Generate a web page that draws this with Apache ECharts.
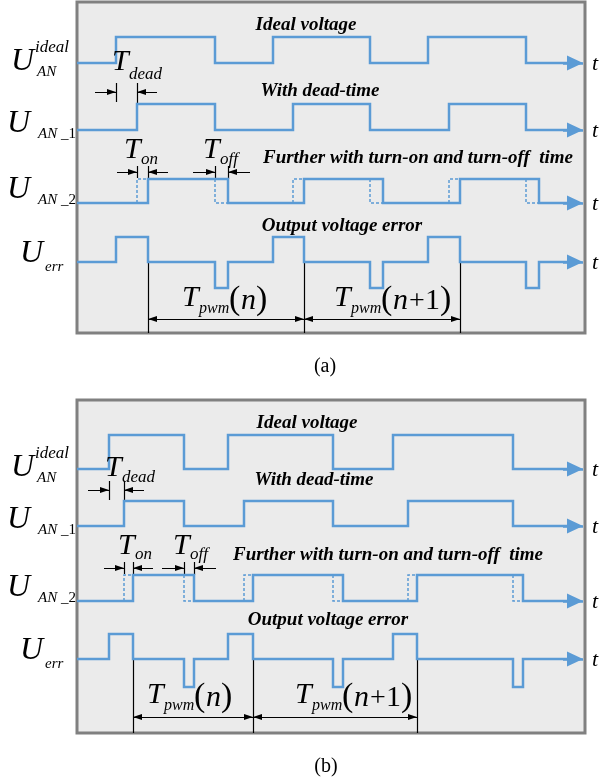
<!DOCTYPE html>
<html><head><meta charset="utf-8">
<script src="https://cdn.jsdelivr.net/npm/echarts/dist/echarts.min.js"></script>
<style>html,body{margin:0;padding:0;background:#fff}#c{width:601px;height:784px}</style>
</head><body><div id="c"></div>
<script>
// ---- Data: switching-edge instants (time units, 0 = left edge of the plot) ----
// Panel (a)
const idealEdgesA  = [39, 138, 196, 293, 351, 449];
const deadEdgesA   = [60, 138, 216, 293, 372, 449];
const actualEdgesA = [71, 151, 227, 306, 383, 462];
// Panel (b)
const idealEdgesB  = [32, 107, 151, 256, 316, 436];
const deadEdgesB   = [47, 107, 167, 256, 331, 436];
const actualEdgesB = [56, 117, 176, 266, 340, 446];
const tMax = 508;          // time span of the axis
const tArrow = 506;        // arrow tip (end of time axis)

const traceTitles = ['Ideal voltage', 'With dead-time', 'Further with turn-on and turn-off  time', 'Output voltage error'];
const captions = ['(a)', '(b)'];

// ---- Layout (pixels / axis units) ----
const BLUE = '#5b9bd5';
const FF = "'Liberation Serif', 'Times New Roman', serif";
const panels = [
  { top: 2, height: 331, ideal: idealEdgesA, dead: deadEdgesA, actual: actualEdgesA,
    rows: { ideal: [35, 61], dead: [102, 128], actual: [177, 201], err: [235, 260, 286] },
    deadArrowY: 90, onArrowY: 170, pwmArrowY: 317 },
  { top: 400, height: 333, ideal: idealEdgesB, dead: deadEdgesB, actual: actualEdgesB,
    rows: { ideal: [35, 69], dead: [101, 126], actual: [175, 201], err: [234, 259, 287] },
    deadArrowY: 90, onArrowY: 168, pwmArrowY: 317 }
];

// arrow symbol: tip located at the line end point
const ARROW = 'path://M5,0 L5,0.01 M5,10 L10,20 L0,20 Z';
const SMALL = [6, 18], BIG = [15, 32];

function levelAt(edges, t) { let n = 0; edges.forEach(e => { if (e <= t) n++; }); return n % 2; }
function stepPoints(edges, hi, lo, tStop) {
  const yOf = l => l ? hi : lo;
  const pts = [[0, lo]];
  let lvl = 0;
  edges.forEach(e => { pts.push([e, yOf(lvl)]); lvl = 1 - lvl; pts.push([e, yOf(lvl)]); });
  pts.push([tStop, yOf(lvl)]);
  return { pts, last: yOf(lvl) };
}
function errPoints(ideal, actual, r, tStop) {
  const yOf = l => l > 0 ? r[0] : (l < 0 ? r[2] : r[1]);
  const ev = ideal.concat(actual).sort((a, b) => a - b);
  const pts = [[0, r[1]]];
  let prev = 0;
  ev.forEach(e => {
    const cur = levelAt(ideal, e) - levelAt(actual, e);
    pts.push([e, yOf(prev)]); pts.push([e, yOf(cur)]); prev = cur;
  });
  pts.push([tStop, yOf(prev)]);
  return { pts, last: yOf(prev) };
}

const grids = [], xAxes = [], yAxes = [], series = [];
panels.forEach((p, i) => {
  grids.push({ left: 77, top: p.top, width: tMax, height: p.height, show: true,
    backgroundColor: '#ebebeb', borderColor: '#808080', borderWidth: 3 });
  xAxes.push({ gridIndex: i, type: 'value', min: 0, max: tMax, show: false });
  yAxes.push({ gridIndex: i, type: 'value', min: 0, max: p.height, inverse: true, show: false });
  const ax = { xAxisIndex: i, yAxisIndex: i, animation: false, silent: true };
  const stop = tArrow - 8;
  const tr = [
    stepPoints(p.ideal, p.rows.ideal[0], p.rows.ideal[1], stop),
    stepPoints(p.dead, p.rows.dead[0], p.rows.dead[1], stop),
    stepPoints(p.actual, p.rows.actual[0], p.rows.actual[1], stop),
    errPoints(p.ideal, p.actual, p.rows.err, stop)
  ];
  tr.forEach(t => series.push(Object.assign({ type: 'line', data: t.pts, symbol: 'none',
    lineStyle: { color: BLUE, width: 2.5, join: 'miter' } }, ax)));
  // blue arrowheads
  series.push(Object.assign({ type: 'lines', coordinateSystem: 'cartesian2d',
    symbol: ['none', ARROW], symbolSize: [BIG, BIG],
    lineStyle: { color: BLUE, width: 2.5, opacity: 1 },
    data: tr.map(t => ({ coords: [[tArrow - 20, t.last], [tArrow, t.last]] })) }, ax));
  // dashed ideal transitions (shifted by dead time) on the turn-on/off trace
  const a = p.rows.actual;
  series.push(Object.assign({ type: 'lines', coordinateSystem: 'cartesian2d', polyline: true,
    lineStyle: { color: BLUE, width: 1.5, type: [3, 2], opacity: 1 },
    data: p.dead.map((d, k) => {
      const from = k % 2 === 0 ? a[1] : a[0], to = k % 2 === 0 ? a[0] : a[1];
      return { coords: [[d, from], [d, to], [p.actual[k], to]] };
    }) }, ax));
  // black plain lines: dimension ticks and period boundaries
  const yD = p.deadArrowY, yO = p.onArrowY;
  const plain = [
    [[p.ideal[0], yD - 9], [p.ideal[0], yD + 10]],
    [[p.dead[0], yD - 9], [p.dead[0], p.rows.dead[0]]],
    [[p.dead[0], yO - 6], [p.dead[0], yO + 6]],
    [[p.actual[0], yO - 6], [p.actual[0], p.rows.actual[0]]],
    [[p.dead[1], yO - 6], [p.dead[1], yO + 6]],
    [[p.actual[1], yO - 6], [p.actual[1], p.rows.actual[0]]]
  ];
  const rises = [p.actual[0], p.actual[2], p.actual[4]];
  rises.forEach(r => plain.push([[r, p.rows.err[1]], [r, p.height]]));
  series.push(Object.assign({ type: 'lines', coordinateSystem: 'cartesian2d',
    lineStyle: { color: '#000', width: 1.2, opacity: 1 },
    data: plain.map(c => ({ coords: c })) }, ax));
  // single arrows (pointing at ticks)
  const single = [
    [[p.ideal[0] - 21, yD], [p.ideal[0], yD]],
    [[p.dead[0] + 20, yD], [p.dead[0], yD]],
    [[p.dead[0] - 20, yO], [p.dead[0], yO]],
    [[p.actual[0] + 20, yO], [p.actual[0], yO]],
    [[p.dead[1] - 22, yO], [p.dead[1], yO]],
    [[p.actual[1] + 22, yO], [p.actual[1], yO]]
  ];
  series.push(Object.assign({ type: 'lines', coordinateSystem: 'cartesian2d',
    symbol: ['none', ARROW], symbolSize: [SMALL, SMALL],
    lineStyle: { color: '#000', width: 1.2, opacity: 1 },
    data: single.map(c => ({ coords: c })) }, ax));
  // period double arrows
  series.push(Object.assign({ type: 'lines', coordinateSystem: 'cartesian2d',
    symbol: [ARROW, ARROW], symbolSize: [SMALL, SMALL],
    lineStyle: { color: '#000', width: 1.2, opacity: 1 },
    data: [[rises[0], rises[1]], [rises[1], rises[2]]].map(s => ({ coords: [[s[0], p.pwmArrowY], [s[1], p.pwmArrowY]] })) }, ax));
});

// ---- Text ----
const F = {
  U: 'italic 32px ' + FF, sup: 'italic 17px ' + FF, sub: 'italic 15px ' + FF, subN: '15px ' + FF,
  title: 'italic bold 19px ' + FF, T: 'italic 30px ' + FF, tsub: 'italic 17px ' + FF, psub: 'italic 16px ' + FF,
  paren: '34px ' + FF, n: 'italic 30px ' + FF, plus: '28px ' + FF, one: '30px ' + FF,
  t: 'italic 22px ' + FF, cap: '20px ' + FF
};
const texts = [];
function tx(s, x, y, f, align) { texts.push({ type: 'text', x, y, silent: true, z: 100,
  style: { text: s, font: F[f], fill: '#000', textAlign: align || 'left', align: align || 'left',
    textVerticalAlign: 'middle', verticalAlign: 'middle' } }); }

const labelCfg = [
  { lowIdeal: 63, lowDead: 130, lowAct: 203, errBase: 262, titles: [[306, 25], [320, 91], [418, 158], [342, 226]],
    tdead: [112, 62, 129, 75], ton: [124, 150, 141, 160], toff: [203, 150, 220, 160],
    pwm1: [182, 298], pwm2: [334, 298], cap: [325, 367] },
  { lowIdeal: 469, lowDead: 526, lowAct: 601, errBase: 659, titles: [[307, 423], [314, 480], [388, 555], [328, 620]],
    tdead: [105, 468, 122, 478], ton: [118, 546, 135, 555], toff: [173, 546, 190, 555],
    pwm1: [147, 695], pwm2: [295, 695], cap: [326, 767] }
];
labelCfg.forEach((c, i) => {
  tx('U', 11, c.lowIdeal - 1, 'U'); tx('ideal', 35, c.lowIdeal - 15, 'sup'); tx('AN', 37, c.lowIdeal + 9, 'sub');
  tx('U', 7, c.lowDead - 6, 'U'); tx('AN', 38, c.lowDead + 4, 'sub'); tx('_1', 61, c.lowDead + 4, 'subN');
  tx('U', 7, c.lowAct - 13, 'U'); tx('AN', 38, c.lowAct - 3, 'sub'); tx('_2', 61, c.lowAct - 3, 'subN');
  tx('U', 20, c.errBase - 8, 'U'); tx('err', 45, c.errBase + 5, 'sub');
  [c.lowIdeal, c.lowDead, c.lowAct, c.errBase].forEach(y => tx('t', 592, y + 1, 't'));
  traceTitles.forEach((s, k) => tx(s, c.titles[k][0], c.titles[k][1], 'title', 'center'));
  tx('T', c.tdead[0], c.tdead[1], 'T'); tx('dead', c.tdead[2], c.tdead[3], 'tsub');
  tx('T', c.ton[0], c.ton[1], 'T'); tx('on', c.ton[2], c.ton[3], 'tsub');
  tx('T', c.toff[0], c.toff[1], 'T'); tx('off', c.toff[2], c.toff[3], 'tsub');
  const [x1, y1] = c.pwm1;
  tx('T', x1, y1, 'T'); tx('pwm', x1 + 17, y1 + 11, 'psub'); tx('(', x1 + 47, y1 + 2, 'paren');
  tx('n', x1 + 59, y1 + 3, 'n'); tx(')', x1 + 74, y1 + 2, 'paren');
  const [x2, y2] = c.pwm2;
  tx('T', x2, y2, 'T'); tx('pwm', x2 + 17, y2 + 11, 'psub'); tx('(', x2 + 47, y2 + 2, 'paren');
  tx('n', x2 + 59, y2 + 3, 'n'); tx('+', x2 + 75, y2 + 4, 'plus'); tx('1', x2 + 91, y2 + 3, 'one');
  tx(')', x2 + 106, y2 + 2, 'paren');
  tx(captions[i], c.cap[0], c.cap[1], 'cap', 'center');
});

const chart = echarts.init(document.getElementById('c'), null, { renderer: 'canvas' });
chart.setOption({ animation: false, grid: grids, xAxis: xAxes, yAxis: yAxes, series, graphic: texts });
</script></body></html>
